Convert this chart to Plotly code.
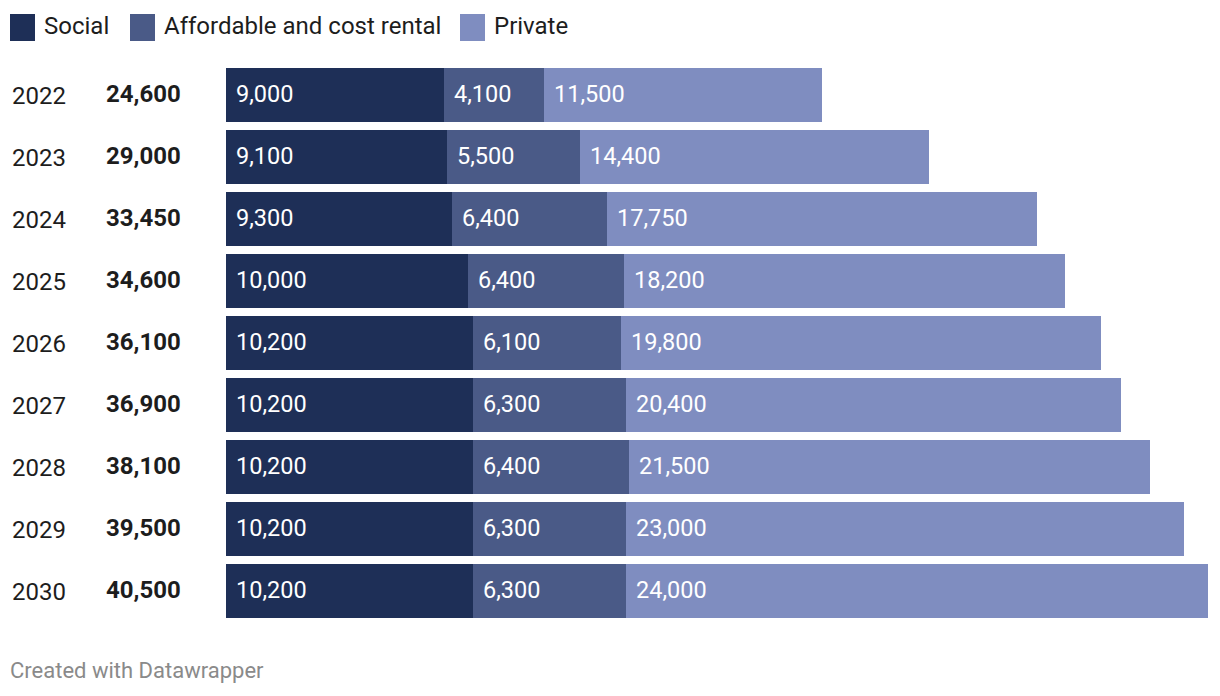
import plotly.graph_objects as go

years = ["2022", "2023", "2024", "2025", "2026", "2027", "2028", "2029", "2030"]
social = [9000, 9100, 9300, 10000, 10200, 10200, 10200, 10200, 10200]
affordable = [4100, 5500, 6400, 6400, 6100, 6300, 6400, 6300, 6300]
private = [11500, 14400, 17750, 18200, 19800, 20400, 21500, 23000, 24000]
totals = [24600, 29000, 33450, 34600, 36100, 36900, 38100, 39500, 40500]

series_names = ["Social", "Affordable and cost rental", "Private"]
colors = ["#1e2f57", "#4a5a87", "#7f8dc0"]
series = [social, affordable, private]

# page body has an 8px margin; work in reference-pixel coordinates
OX, OY = 8, 8
W, H = 1220 - OX, 696 - OY
L = 226 - OX
R = W - (1208 - OX)
T = 64 - OY
B = H - (622 - OY)
PW, PH = W - L - R, H - T - B

def px2x(px):
    return (px - OX - L) / PW

def py2y(py):
    return (H - B - (py - OY)) / PH

FONT = "Roboto"
fig = go.Figure()
for name, vals, col in zip(series_names, series, colors):
    fig.add_trace(go.Bar(
        y=years, x=vals, name=name, orientation="h",
        marker=dict(color=col, line=dict(width=0)),
        showlegend=False, hoverinfo="x+name",
    ))

annotations = []
for i, yr in enumerate(years):
    start = 0
    for vals in series:
        annotations.append(dict(
            x=start, y=i, xref="x", yref="y", xanchor="left", yanchor="middle",
            xshift=8, yshift=1, text=f"{vals[i]:,}", showarrow=False,
            font=dict(family=FONT, size=23.5, color="white"),
        ))
        start += vals[i]
    annotations.append(dict(
        x=px2x(10), y=i, xref="paper", yref="y", xanchor="left", yanchor="middle",
        yshift=-1, text=yr, showarrow=False,
        font=dict(family=FONT, size=24, color="#1d1d1d"),
    ))
    annotations.append(dict(
        x=px2x(104), y=i, xref="paper", yref="y", xanchor="left", yanchor="middle",
        yshift=1, text=f"<b>{totals[i]:,}</b>", showarrow=False,
        font=dict(family=FONT, size=24, color="#1d1d1d"),
    ))

# custom legend
shapes = []
legend_x = [10, 130, 460]
for lx, name, col in zip(legend_x, series_names, colors):
    shapes.append(dict(
        type="rect", xref="paper", yref="paper",
        x0=px2x(lx), x1=px2x(lx + 25), y0=py2y(41), y1=py2y(14),
        fillcolor=col, line=dict(width=0),
    ))
    annotations.append(dict(
        x=px2x(lx + 32), y=py2y(26), xref="paper", yref="paper",
        xanchor="left", yanchor="middle", text=name, showarrow=False,
        font=dict(family=FONT, size=24, color="#1d1d1d"),
    ))

annotations.append(dict(
    x=px2x(8), y=py2y(670), xref="paper", yref="paper",
    xanchor="left", yanchor="middle", text="Created with Datawrapper",
    showarrow=False, font=dict(family=FONT, size=22, color="#8a8a8a"),
))

fig.update_layout(
    width=W, height=H,
    margin=dict(l=L, r=R, t=T, b=B, pad=0),
    barmode="stack", bargap=8 / 62,
    plot_bgcolor="white", paper_bgcolor="white",
    xaxis=dict(range=[0, totals[-1]], visible=False, fixedrange=True),
    yaxis=dict(type="category", range=[len(years) - 0.5, -0.5], visible=False,
               fixedrange=True, categoryorder="array", categoryarray=years),
    annotations=annotations, shapes=shapes,
    font=dict(family=FONT),
)

fig.write_html("out.html")
